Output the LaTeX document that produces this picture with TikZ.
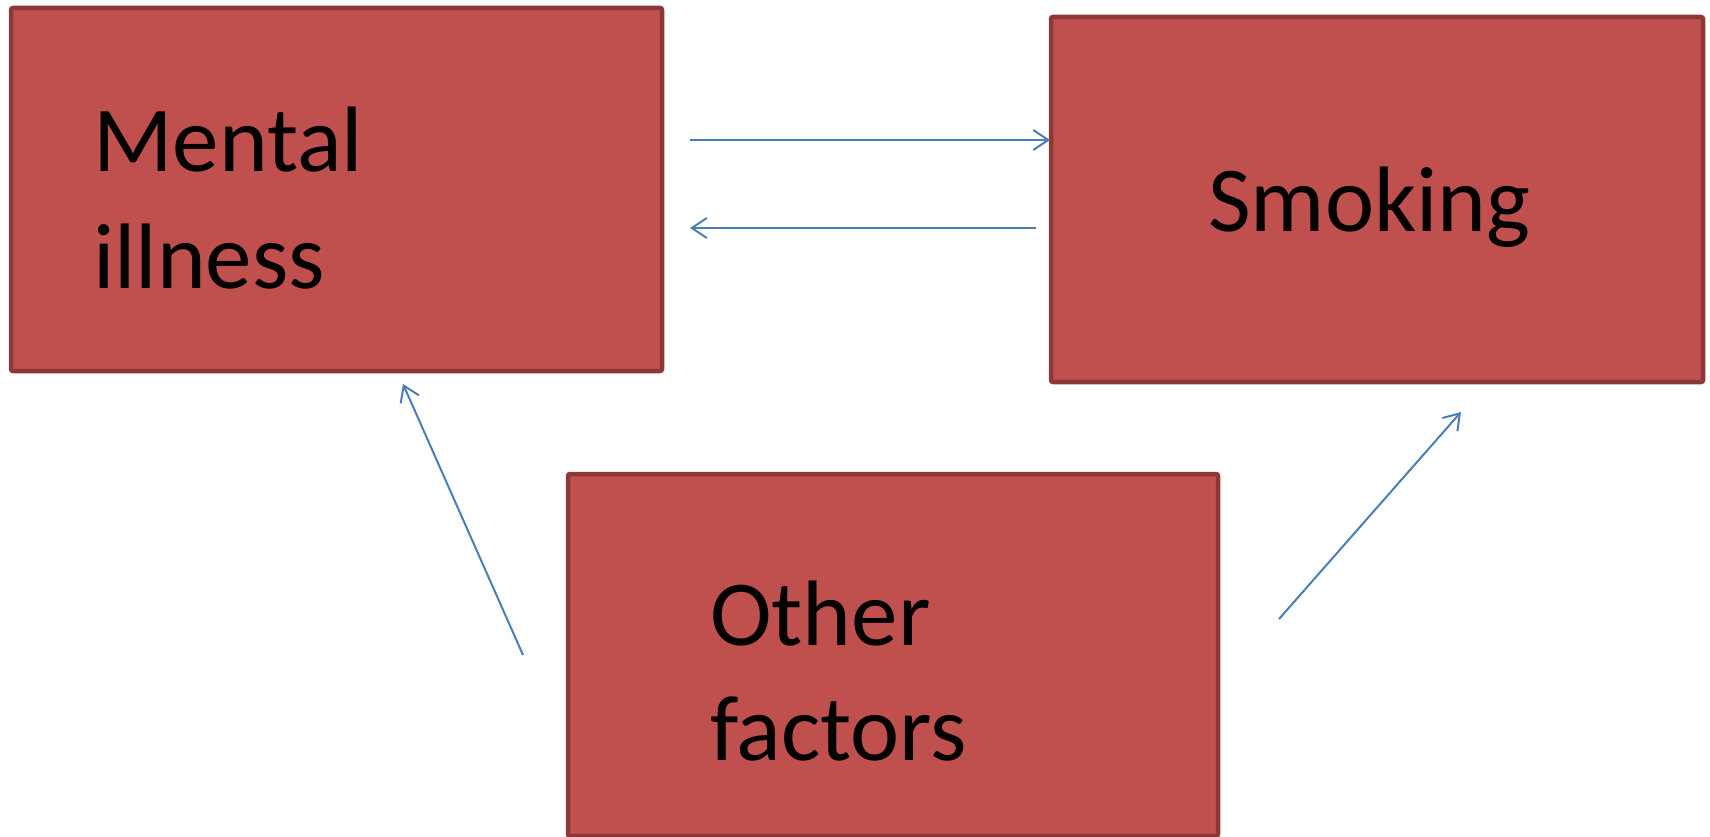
\documentclass[tikz,border=0pt]{standalone}
\usepackage{fontspec}
\setmainfont{Carlito}
\usetikzlibrary{arrows.meta}
\definecolor{boxfill}{HTML}{C0504D}
\definecolor{boxedge}{HTML}{8C3836}
\definecolor{arrowblue}{HTML}{4A7EBB}
\begin{document}
\begin{tikzpicture}[x=1pt,y=-1pt,
  box/.style={draw=boxedge,fill=boxfill,line width=4.5pt,rounded corners=2pt},
  label/.style={anchor=base west,inner sep=0pt,font=\fontsize{93}{116}\selectfont},
  conn/.style={draw=arrowblue,line width=2pt,-{Straight Barb[length=15pt,width=20pt,line width=2pt]}}]
\useasboundingbox (0,0) rectangle (1710,837);
\path[box] (11,8) rectangle (662,371);
\node[inner sep=0pt] (mental) at (336.5,189.5) {};
\path[box] (1051,17) rectangle (1703,382);
\node[inner sep=0pt] (smoking) at (1377,199.5) {};
\path[box] (568,474) rectangle (1218,836);
\node[inner sep=0pt] (other) at (893,655) {};
\node[label] (t1) at (93,172) {Mental};
\node[label] (t2) at (93,288) {illness};
\node[label] (t3) at (1208,231) {Smoking};
\node[label] (t4) at (710,645) {Other};
\node[label] (t5) at (710,760) {factors};
\coordinate (a1s) at (690,140);
\coordinate (a1e) at (1050,140);
\coordinate (a2s) at (1036,228);
\coordinate (a2e) at (690,228);
\coordinate (a3s) at (523,655);
\coordinate (a3e) at (403,384);
\coordinate (a4s) at (1279,619);
\coordinate (a4e) at (1461,412);
\draw[conn] (a1s) -- (a1e);
\draw[conn] (a2s) -- (a2e);
\draw[conn] (a3s) -- (a3e);
\draw[conn] (a4s) -- (a4e);
\end{tikzpicture}
\end{document}
